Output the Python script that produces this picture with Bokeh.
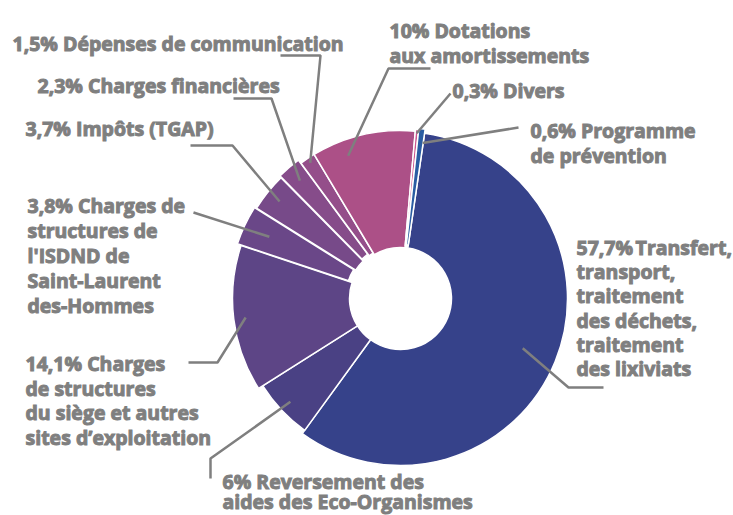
import math

from bokeh.core.properties import value
from bokeh.embed import file_html
from bokeh.models import ColumnDataSource, Range1d
from bokeh.plotting import figure
from bokeh.resources import INLINE

W, H = 733, 515

# Cost breakdown, in percent, listed clockwise starting near 12 o'clock
shares = [57.7, 6.0, 14.1, 3.8, 3.7, 2.3, 1.5, 10.0, 0.3, 0.6]
share_labels = ["57,7%", "6%", "14,1%", "3,8%", "3,7%", "2,3%", "1,5%", "10%", "0,3%", "0,6%"]
categories = [
    "Transfert,\ntransport,\ntraitement\ndes déchets,\ntraitement\ndes lixiviats",
    "Reversement des\naides des Eco-Organismes",
    "Charges\nde structures\ndu siège et autres\nsites d’exploitation",
    "Charges de\nstructures de\nl'ISDND de\nSaint-Laurent\ndes-Hommes",
    "Impôts (TGAP)",
    "Charges financières",
    "Dépenses de communication",
    "Dotations\naux amortissements",
    "Divers",
    "Programme\nde prévention",
]
colors = ["#36428A", "#4A4184", "#5D4586", "#6A4788", "#774A89",
          "#864C8A", "#944E8A", "#AC5087", "#CC5890", "#2A5CA2"]

# ring layout (screen pixels, y measured downward)
CX, CY = 400, 298
R_IN = 51
START = 8.3                      # first slice starts this many degrees clockwise from 12 o'clock
outer_r = [167, 163, 168, 168, 168, 168, 166, 168, 168, 168]
explode = [0, 0, 0, 4, 2, 4, 2, 0, 2, 3]

# label placement: left x, first baseline, line spacing, gap after the percentage
label_pos = [
    (576, 247, 24.2, "\u202f"),
    (222, 481, 19.5, " "),
    (25, 363, 24.7, " "),
    (27, 205, 25, " "),
    (25, 128, 25, " "),
    (37, 85, 25, " "),
    (12, 43, 25, " "),
    (389, 30, 25, " "),
    (452, 90, 25, " "),
    (530, 130, 25, " "),
]
# leader lines: fixed elbow points, then an anchor inside the slice (fraction of sweep, radius)
leader_knees = [
    [(603, 387), (568, 387)],
    [(210, 478), (210, 458)],
    [(188, 362), (217, 362)],
    [(193, 212)],
    [(190, 145), (232, 145)],
    [(233, 98), (271, 98)],
    [(280, 55), (320, 55)],
    [(430, 68), (388, 68)],
    [(450, 93)],
    [(518, 127)],
]
leader_anchor = [(0.5, 132), (0.5, 151), (0.5, 156), (0.5, 145), (0.5, 155),
                 (0.5, 155), (0.5, 163), (0.3, 152), (0.5, 166), (0.9, 157)]

TEXT_GRAY = "#7F7F7F"
FONT = "Open Sans"


def to_data(x, y):
    return x, H - y


p = figure(width=W, height=H, output_backend="svg", toolbar_location=None,
           x_range=Range1d(0, W), y_range=Range1d(0, H),
           x_axis_location=None, y_axis_location=None, min_border=0)
p.grid.visible = False
p.outline_line_color = None
p.background_fill_color = "white"

total = sum(shares)
cx_d, cy_d = to_data(CX, CY)

wx, wy, wr, ws, we, wc = [], [], [], [], [], []
spans = []
phi = START
for i, s in enumerate(shares):
    sweep = 360.0 * s / total
    a1, a2 = phi, phi + sweep
    spans.append((a1, a2))
    mid = math.radians((a1 + a2) / 2)
    wx.append(cx_d + explode[i] * math.sin(mid))
    wy.append(cy_d + explode[i] * math.cos(mid))
    wr.append(outer_r[i])
    ws.append(math.radians(90 - a2))
    we.append(math.radians(90 - a1))
    wc.append(colors[i])
    phi = a2

wedges = ColumnDataSource(dict(x=wx, y=wy, outer=wr, start=ws, end=we, color=wc))
p.annular_wedge(x="x", y="y", inner_radius=R_IN, outer_radius="outer",
                start_angle="start", end_angle="end", direction="anticlock",
                fill_color="color", line_color="white", line_width=1.5, source=wedges)

# leader lines from the labels into their slices
xs, ys = [], []
for i, knees in enumerate(leader_knees):
    a1, a2 = spans[i]
    frac, rad = leader_anchor[i]
    ang = math.radians(a1 + frac * (a2 - a1))
    ax = cx_d + rad * math.sin(ang)
    ay = cy_d + rad * math.cos(ang)
    pts = [to_data(kx, ky) for kx, ky in knees] + [(ax, ay)]
    xs.append([pt[0] for pt in pts])
    ys.append([pt[1] for pt in pts])
p.multi_line(xs, ys, line_color=TEXT_GRAY, line_width=2.5)

# labels, one text glyph per line
tx, ty, tt = [], [], []
for i, cat in enumerate(categories):
    lx, base, step, gap = label_pos[i]
    lines = (share_labels[i] + gap + cat).split("\n")
    for k, line in enumerate(lines):
        x, y = to_data(lx, base + k * step)
        tx.append(x)
        ty.append(y)
        tt.append(line)
p.text(x=tx, y=ty, text=tt, text_font=value(FONT), text_font_style="bold",
       text_font_size="19.5px", text_color=TEXT_GRAY,
       text_outline_color=TEXT_GRAY,
       text_align="left", text_baseline="alphabetic")

open("out.html", "w").write(file_html(p, INLINE))
